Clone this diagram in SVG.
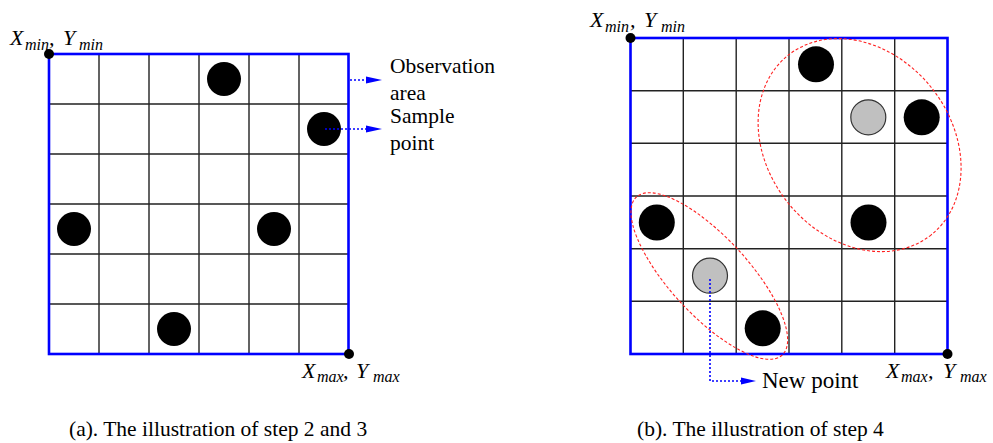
<svg xmlns="http://www.w3.org/2000/svg" width="993" height="443" viewBox="0 0 993 443">
<defs>
<style>
.grid{stroke:#222;stroke-width:1.4;fill:none}
.border{stroke:#0000ff;stroke-width:2.6;fill:none}
.blk{fill:#000}
.gry{fill:#c0c0c0;stroke:#333;stroke-width:1.2}
.dot{fill:#000}
.lead{stroke:#0000ff;stroke-width:1.6;stroke-dasharray:2 2;fill:none}
.head{fill:#0000ff}
.ell{stroke:#ff2020;stroke-width:1.1;stroke-dasharray:3 2;fill:none}
text{font-family:"Liberation Serif","Times New Roman",serif;fill:#000}
.lbl{font-size:21.5px}
.np{font-size:23px}
.cap{font-size:21.5px}
.it{font-style:italic;font-size:22px}
.sub{font-size:16px}
</style>
</defs>
<rect width="993" height="443" fill="#fff"/>

<g id="gridA">
<path class="grid" d="M99 54V354M149 54V354M199 54V354M249 54V354M299 54V354M49 104H348.5M49 154H348.5M49 204H348.5M49 254H348.5M49 304H348.5"/>
<rect class="border" x="49" y="54" width="299.5" height="300"/>
</g>
<g id="pointsA">
<circle class="blk" cx="224" cy="79" r="17"/>
<circle class="blk" cx="324" cy="129" r="17"/>
<circle class="blk" cx="74" cy="229" r="17"/>
<circle class="blk" cx="274" cy="229" r="17"/>
<circle class="blk" cx="174" cy="329" r="17"/>
</g>
<g id="cornersA">
<circle class="dot" cx="49" cy="54" r="5"/>
<circle class="dot" cx="349" cy="354" r="5"/>
</g>

<g id="gridB">
<path class="grid" d="M683.3 38V354M736.2 38V354M789 38V354M841.8 38V354M894.7 38V354M630.5 90.7H947.5M630.5 143.3H947.5M630.5 196H947.5M630.5 248.7H947.5M630.5 301.3H947.5"/>
<rect class="border" x="630.5" y="38" width="317" height="316"/>
</g>
<g id="pointsB">
<circle class="blk" cx="816" cy="64.3" r="18"/>
<circle class="gry" cx="868.3" cy="117.3" r="17.5"/>
<circle class="blk" cx="921.7" cy="117.3" r="18"/>
<circle class="blk" cx="868.5" cy="222.5" r="18"/>
<circle class="blk" cx="656.8" cy="222.5" r="18"/>
<circle class="gry" cx="710" cy="275.7" r="17.5"/>
<circle class="blk" cx="762.7" cy="328.3" r="18"/>
</g>
<g id="cornersB">
<circle class="dot" cx="630.5" cy="38" r="5"/>
<circle class="dot" cx="947.5" cy="354" r="5"/>
</g>
<g id="clusters">
<ellipse class="ell" cx="859.6" cy="145.1" rx="114.8" ry="92" transform="rotate(51.4 859.6 145.1)"/>
<ellipse class="ell" cx="709.3" cy="276" rx="107.5" ry="39" transform="rotate(47.3 709.3 276)"/>
</g>

<g id="connectors">
<path class="lead" d="M350 80H368"/>
<polygon class="head" points="366,76.5 382,80 366,83.5"/>
<path class="lead" d="M325 129H368"/>
<polygon class="head" points="366,125.5 382,129 366,132.5"/>
<path class="lead" d="M710 279V381H743"/>
<polygon class="head" points="741,377.5 756,381 741,384.5"/>
</g>

<g id="labels">
<text class="lbl" x="390" y="73">Observation</text>
<text class="lbl" x="390" y="99.5">area</text>
<text class="lbl" x="390" y="123">Sample</text>
<text class="lbl" x="390" y="149.5">point</text>
<text class="np" x="762" y="388">New point</text>

<text class="it" x="10" y="45">X<tspan class="sub" x="25" y="50">min</tspan><tspan x="49" y="45">,</tspan><tspan x="63" y="45">Y</tspan><tspan class="sub" x="79" y="50">min</tspan></text>
<text class="it" x="590" y="27">X<tspan class="sub" x="605" y="32">min</tspan><tspan x="630" y="27">,</tspan><tspan x="644" y="27">Y</tspan><tspan class="sub" x="661" y="32">min</tspan></text>
<text class="it" x="302" y="378">X<tspan class="sub" x="317" y="382">max</tspan><tspan x="343" y="378">,</tspan><tspan x="356" y="378">Y</tspan><tspan class="sub" x="373" y="382">max</tspan></text>
<text class="it" x="886" y="378">X<tspan class="sub" x="901" y="382">max</tspan><tspan x="928" y="378">,</tspan><tspan x="943" y="378">Y</tspan><tspan class="sub" x="960" y="382">max</tspan></text>

<text class="cap" x="69" y="436">(a). The illustration of step 2 and 3</text>
<text class="cap" x="637" y="436">(b). The illustration of step 4</text>
</g>
</svg>
